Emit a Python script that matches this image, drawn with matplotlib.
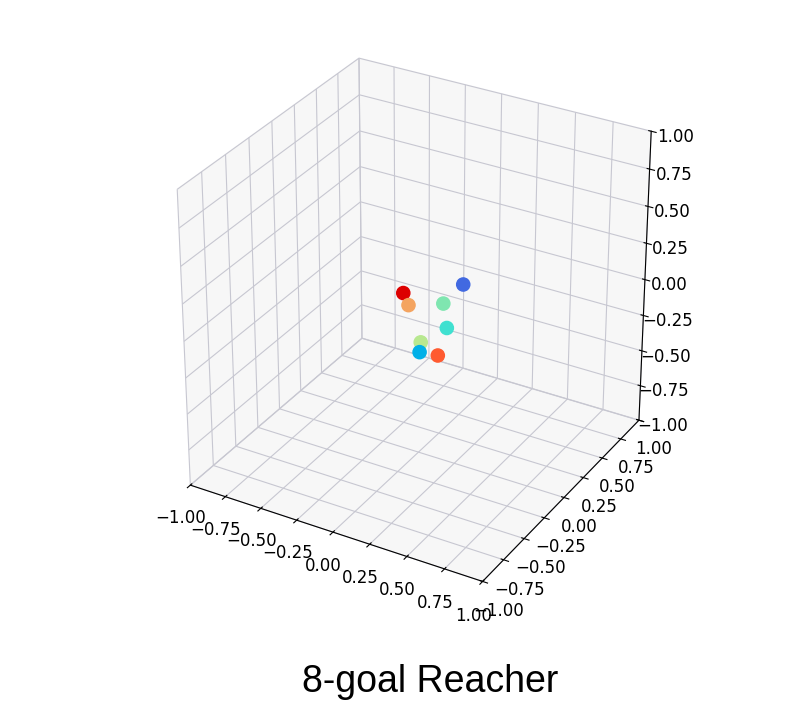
import matplotlib
matplotlib.use("Agg")
import matplotlib.pyplot as plt
import numpy as np

# goal positions (estimated)
goal_x = [-0.18, -0.08, 0.08, 0.09, 0.25, 0.20, 0.25, 0.36]
goal_y = [0.13, 0.02, 0.40, 0.14, -0.10, -0.32, -0.42, -0.40]
goal_z = [0.0, 0.0, 0.0, 0.0, 0.0, 0.0, 0.0, 0.0]
goal_colors = ['#dd0000', '#f4a460', '#4169e1', '#7fe6b0',
               '#40e0d0', '#b8e890', '#00b0e8', '#ff5a30']
ticks = [-1.0, -0.75, -0.5, -0.25, 0.0, 0.25, 0.5, 0.75, 1.0]
title = "8-goal Reacher"

fig = plt.figure(figsize=(7.9, 7.09), dpi=100)
ax = fig.add_axes([0.0925, 0.152, 0.855, 0.80], projection='3d')
ax.set_box_aspect((1, 1, 1))
ax.scatter(goal_x, goal_y, goal_z, c=goal_colors, s=90, depthshade=False, alpha=1)
ax.set_xlim(-1, 1)
ax.set_ylim(-1, 1)
ax.set_zlim(-1, 1)
ax.set_xticks(ticks)
ax.set_yticks(ticks)
ax.set_zticks(ticks)
ax.tick_params(labelsize=12)
for axis in (ax.xaxis, ax.yaxis, ax.zaxis):
    axis.set_pane_color((0.95, 0.95, 0.95, 0.6))
    axis._axinfo['grid']['color'] = (0.78, 0.78, 0.82, 1.0)
fig.text(0.545, 0.038, title, ha='center', va='center', fontsize=27, family='Liberation Sans')
fig.savefig('out.png', dpi=100)
